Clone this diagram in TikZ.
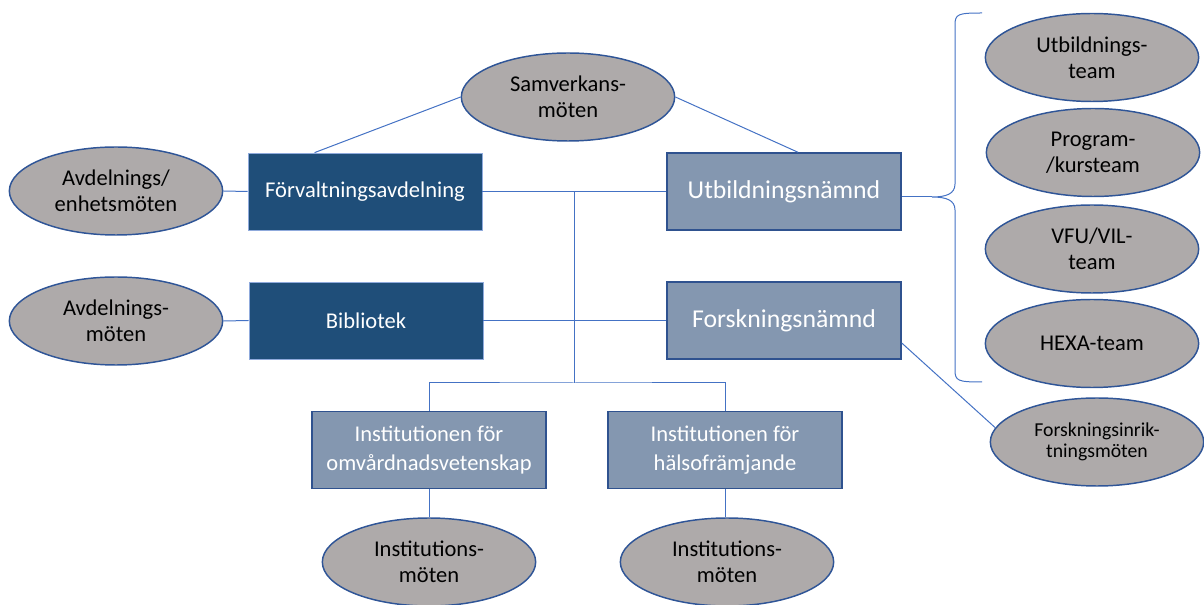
\documentclass[tikz,border=0pt]{standalone}
\usepackage{fontspec}
\setmainfont{Carlito}
\usepackage{tikz}
\usetikzlibrary{shapes.geometric, calc}

\definecolor{ellfill}{RGB}{174,170,170}
\definecolor{elledge}{RGB}{47,85,151}
\definecolor{darkfill}{RGB}{31,78,121}
\definecolor{darkedge}{RGB}{143,170,220}
\definecolor{lightfill}{RGB}{132,151,176}
\definecolor{lightedge}{RGB}{47,82,143}
\definecolor{linkblue}{RGB}{68,114,196}

\tikzset{
  meeting/.style={ellipse, draw=elledge, line width=1.1pt, fill=ellfill, minimum width=160pt, minimum height=66pt, inner sep=0pt, align=center, text=black, font=\fontsize{16.9}{19.5}\selectfont},
  smallmeeting/.style={meeting, font=\fontsize{14.8}{15.8}\selectfont},
  unitdark/.style={rectangle, draw=darkedge, line width=0.6pt, fill=darkfill, minimum width=175.5pt, minimum height=57.75pt, inner sep=0pt, align=center, text=white, font=\fontsize{16.9}{21.5}\selectfont},
  unitlight/.style={unitdark, draw=lightedge, line width=1.1pt, fill=lightfill},
  board/.style={unitlight, font=\fontsize{19.3}{22}\selectfont},
  link/.style={draw=linkblue, line width=0.75pt},
}

\begin{document}
\begin{tikzpicture}[x=0.75pt,y=0.75pt,yscale=-1,xscale=1]
\useasboundingbox (0,0) rectangle (1204,605);

%Units
\node [unitdark] (forv) at (365,191.5) {Förvaltningsavdelning};
\node [unitdark] (bibl) at (366,320.5) {Bibliotek};
\node [board] (utb) at (784,191.5) {Utbildningsnämnd};
\node [board] (forsk) at (784,320.5) {Forskningsnämnd};
\node [unitlight] (instomv) at (429,450) {Institutionen för\\omvårdnadsvetenskap};
\node [unitlight] (insthal) at (725,450) {Institutionen för\\hälsofrämjande};

%Meetings
\node [meeting] (samv) at (568,97) {Samverkans-\\möten};
\node [meeting] (avdenh) at (116,191) {Avdelnings/\\enhetsmöten};
\node [meeting] (avdbibl) at (116,321) {Avdelnings-\\möten};
\node [meeting] (instmomv) at (429,562) {Institutions-\\möten};
\node [meeting] (instmhal) at (727,562) {Institutions-\\möten};
\node [meeting] (utbteam) at (1092,57.5) {Utbildnings-\\team};
\node [meeting] (progteam) at (1093,152.5) {Program-\\/kursteam};
\node [meeting] (vfuteam) at (1092,249) {VFU/VIL-\\team};
\node [meeting] (hexateam) at (1092,343.5) {HEXA-team};
\node [smallmeeting] (forskm) at (1097,442) {Forskningsinrik-\\tningsmöten};

%Straight Lines
\draw [link] (samv.west) -- ($(forv.north west)+(67,0)$);
\draw [link] (samv.east) -- ($(utb.north)+(14,0)$);
\draw [link] (avdenh.east) -- (forv.west);
\draw [link] (avdbibl.east) -- (bibl.west);
\draw [link] (forv.east) -- (utb.west);
\draw [link] (bibl.east) -- (forsk.west);
\coordinate (trunk) at (574,191.5);
\coordinate (hub) at (574,383);
\draw [link] (trunk) -- (hub);
\draw [link] (instomv.north) |- (hub) -| (insthal.north);
\draw [link] (instomv.south) -- (instmomv.north);
\draw [link] (insthal.south) -- (insthal.south |- instmhal.north);
\draw [link] ($(forsk.east)+(0,22.5)$) -- (forskm.172);

%Brace
\coordinate (tip) at (932,197);
\draw [link] (982,13) .. controls (958,13) and (955,14) .. (955,25) -- (955,184) .. controls (955,194) and (946,197) .. (tip) .. controls (946,197) and (955,200) .. (955,210) -- (955,370) .. controls (955,381) and (958,382) .. (982,382);
\draw [link] (tip -| utb.east) -- (tip);

\end{tikzpicture}
\end{document}
